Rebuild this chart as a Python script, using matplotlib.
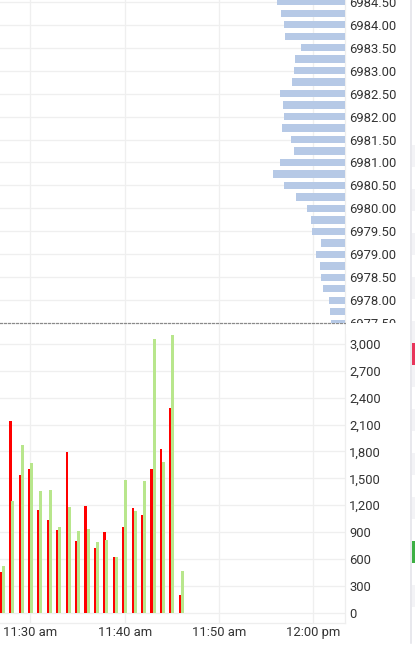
import matplotlib
matplotlib.use('Agg')
import matplotlib.pyplot as plt
from matplotlib.ticker import FuncFormatter
from matplotlib.patches import Rectangle
from matplotlib.lines import Line2D

plt.rcParams['font.family'] = ['Roboto', 'DejaVu Sans']

# ---------------- data ----------------
times = ['11:27', '11:28', '11:29', '11:30', '11:31', '11:32', '11:33', '11:34', '11:35', '11:36',
         '11:37', '11:38', '11:39', '11:40', '11:41', '11:42', '11:43', '11:44', '11:45', '11:46']
sell_volume = [450, 2140, 1540, 1600, 1150, 1035, 925, 1790, 800, 1190,
               720, 900, 620, 955, 1170, 1095, 1600, 1825, 2290, 200]
buy_volume = [520, 1250, 1870, 1675, 1360, 1375, 955, 1180, 910, 930,
              785, 815, 620, 1485, 1135, 1465, 3055, 1680, 3100, 460]

tick_times = ['11:30', '11:40', '11:50', '12:00']
tick_labels = ['11:30 am', '11:40 am', '11:50 am', '12:00 pm']
volume_ticks = [0, 300, 600, 900, 1200, 1500, 1800, 2100, 2400, 2700, 3000]

profile_prices = [6984.50, 6984.25, 6984.00, 6983.75, 6983.50, 6983.25, 6983.00, 6982.75,
                  6982.50, 6982.25, 6982.00, 6981.75, 6981.50, 6981.25, 6981.00, 6980.75,
                  6980.50, 6980.25, 6980.00, 6979.75, 6979.50, 6979.25, 6979.00, 6978.75,
                  6978.50, 6978.25, 6978.00, 6977.75, 6977.50]
profile_volume = [677, 643, 610, 597, 437, 503, 513, 530, 653, 623, 610, 630, 537, 507, 653,
                  720, 607, 493, 380, 337, 330, 243, 293, 250, 240, 223, 157, 150, 143]
price_ticks = [6977.50, 6978.00, 6978.50, 6979.00, 6979.50, 6980.00, 6980.50, 6981.00,
               6981.50, 6982.00, 6982.50, 6983.00, 6983.50, 6984.00, 6984.50]


def to_min(t):
    h, m = t.split(':')
    return (int(h) - 11) * 60 + int(m)


x = [to_min(t) for t in times]
xt = [to_min(t) for t in tick_times]

# ---------------- layout ----------------
W, H = 415, 650
PLOT_R = 345.0
SPLIT = 323.4
BOT = 623.0
PXM = 9.42           # px per minute
X30 = 30.4           # px of 11:30
Y0 = 612.7           # px of volume 0
SV = 268.7 / 3000    # px per volume unit
P_REF_Y = 24.7       # px of 6984.00
P_PX = 45.93         # px per 1.0 price

GRID = '#efefef'
TXT = '#333333'
FS = 9.4

fig = plt.figure(figsize=(W / 100, H / 100), dpi=100)
fig.patch.set_facecolor('white')

ax_b = fig.add_axes([0, (H - BOT) / H, PLOT_R / W, (BOT - SPLIT) / H])
ax_t = fig.add_axes([0, (H - SPLIT) / H, PLOT_R / W, SPLIT / H], sharex=ax_b)
ax_p = ax_t.twiny()

xlim = (30 + (0 - X30) / PXM, 30 + (PLOT_R - X30) / PXM)

# ---------------- volume panel ----------------
wr, wg, off = 2.6 / PXM, 3.0 / PXM, 1.15 / PXM
ax_b.bar([v - off for v in x], sell_volume, width=wr, color='#ff0000', linewidth=0, zorder=2)
ax_b.bar([v + off for v in x], buy_volume, width=wg, color='#b8e68c', linewidth=0, zorder=2.1)
ax_b.set_xlim(*xlim)
ax_b.set_ylim(-(BOT - Y0) / SV, (Y0 - SPLIT) / SV)
ax_b.set_axisbelow(True)
ax_b.yaxis.tick_right()
ax_b.set_yticks(volume_ticks)
ax_b.yaxis.set_major_formatter(FuncFormatter(lambda v, p: f'{v:,.0f}'))
ax_b.set_xticks(xt)
ax_b.set_xticklabels(tick_labels)
ax_b.tick_params(axis='y', length=0, pad=2.9, labelsize=FS, labelcolor=TXT)
ax_b.tick_params(axis='x', length=0, pad=2.2, labelsize=FS, labelcolor=TXT)
ax_b.grid(True, color=GRID, linewidth=0.9)
for s in ['top', 'left']:
    ax_b.spines[s].set_visible(False)
for s in ['right', 'bottom']:
    ax_b.spines[s].set_color('#eeeeee')
    ax_b.spines[s].set_linewidth(0.9)

# ---------------- price / profile panel ----------------
ax_t.set_ylim(6984 - (SPLIT - P_REF_Y) / P_PX, 6984 + P_REF_Y / P_PX)
ax_t.set_axisbelow(True)
ax_t.yaxis.tick_right()
ax_t.set_yticks(price_ticks)
ax_t.yaxis.set_major_formatter(FuncFormatter(lambda v, p: f'{v:.2f}'))
ax_t.tick_params(axis='y', length=0, pad=2.9, labelsize=FS, labelcolor=TXT)
ax_t.tick_params(axis='x', length=0, labelbottom=False, labeltop=False)
ax_t.grid(True, color=GRID, linewidth=0.9)
ax_t.yaxis.get_major_ticks()[0].gridline.set_visible(False)
for s in ['top', 'left']:
    ax_t.spines[s].set_visible(False)
ax_t.spines['right'].set_color('#eeeeee')
ax_t.spines['right'].set_linewidth(0.9)
ax_t.spines['bottom'].set_color('#8a8a8a')
ax_t.spines['bottom'].set_linewidth(0.9)
ax_t.spines['bottom'].set_linestyle((0, (1.6, 1.6)))

ax_p.barh(profile_prices, profile_volume, height=0.16, color='#b6c9e6', linewidth=0)
ax_p.set_xlim(PLOT_R * 10, 0)
ax_p.set_ylim(ax_t.get_ylim())
ax_p.xaxis.set_visible(False)
for s in ax_p.spines.values():
    s.set_visible(False)
ax_t.tick_params(axis='x', labelbottom=False, labeltop=False)

# cut the lowest price label at the panel border
fig.add_artist(Rectangle((346 / W, 1 - 334 / H), (409 - 346) / W, (334 - SPLIT) / H,
                         transform=fig.transFigure, facecolor='white', edgecolor='none', zorder=3))

# ---------------- right-edge strip ----------------
fig.add_artist(Line2D([410.7 / W, 410.7 / W], [1, 1 - 643 / H], transform=fig.transFigure,
                      color='#e1e1e8', linewidth=1.1, zorder=3))
for y0 in [145, 189, 233, 277, 321, 365, 409, 453, 497, 585]:
    fig.add_artist(Rectangle((411.8 / W, 1 - (y0 + 22) / H), 3.5 / W, 22 / H,
                             transform=fig.transFigure, facecolor='#f3f3f6',
                             edgecolor='none', zorder=3))
fig.add_artist(Rectangle((411.8 / W, 1 - 365 / H), 3.5 / W, 22 / H, transform=fig.transFigure,
                         facecolor='#e8355b', edgecolor='none', zorder=4))
fig.add_artist(Rectangle((411.8 / W, 1 - 563 / H), 3.5 / W, 22 / H, transform=fig.transFigure,
                         facecolor='#3db044', edgecolor='none', zorder=4))

fig.savefig('out.png', dpi=100)
